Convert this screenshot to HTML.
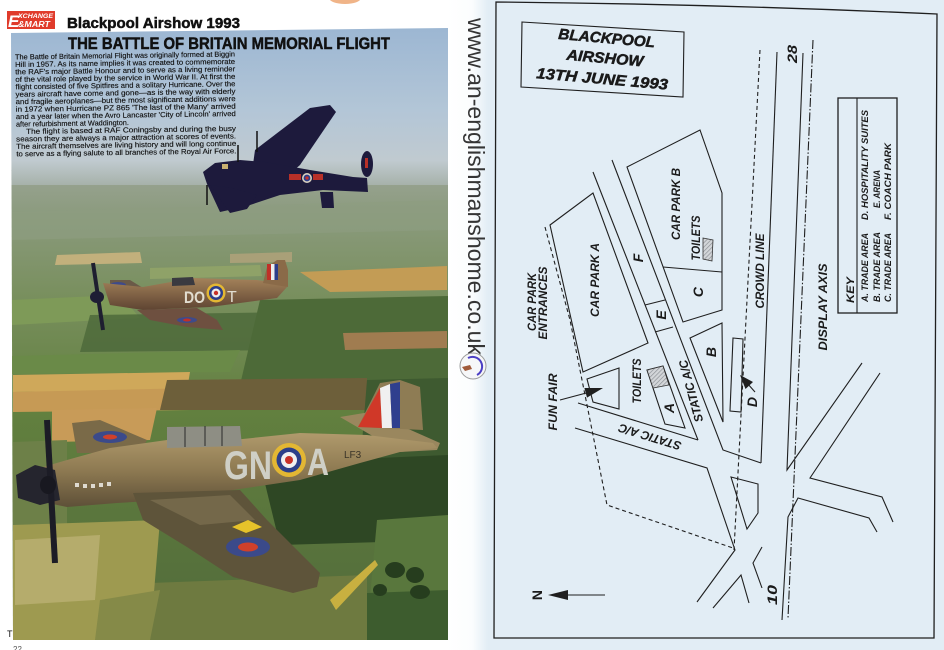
<!DOCTYPE html>
<html><head><meta charset="utf-8">
<style>
html,body{margin:0;padding:0;background:#fff;width:944px;height:650px;overflow:hidden;}
svg{display:block;}
</style></head><body>
<svg width="944" height="650" viewBox="0 0 944 650" xmlns="http://www.w3.org/2000/svg" font-family="'Liberation Sans', Arial, sans-serif">
<defs>
 <clipPath id="ph"><polygon points="11,33 448,28 448,640 13,640"/></clipPath>
 <linearGradient id="sky" x1="0" y1="0" x2="0" y2="1">
  <stop offset="0" stop-color="#9ab5d2"/>
  <stop offset="0.55" stop-color="#b3c6d7"/>
  <stop offset="0.85" stop-color="#c0cad0"/>
  <stop offset="1" stop-color="#a7b2aa"/>
 </linearGradient>
 <linearGradient id="land" x1="0" y1="0" x2="0" y2="1">
  <stop offset="0" stop-color="#9aa494"/>
  <stop offset="0.1" stop-color="#8a9a7c"/>
  <stop offset="0.25" stop-color="#7a9060"/>
  <stop offset="0.5" stop-color="#62803f"/>
  <stop offset="1" stop-color="#50693a"/>
 </linearGradient>
 <linearGradient id="spine" x1="0" y1="0" x2="1" y2="0">
  <stop offset="0" stop-color="#ffffff"/>
  <stop offset="0.6" stop-color="#fbfdfe"/>
  <stop offset="1" stop-color="#e2edf5"/>
 </linearGradient>
 <linearGradient id="hurr" x1="0" y1="0" x2="0" y2="1">
  <stop offset="0" stop-color="#b09a6c"/>
  <stop offset="0.5" stop-color="#8e7a52"/>
  <stop offset="1" stop-color="#5e5038"/>
 </linearGradient>
 <linearGradient id="spit" x1="0" y1="0" x2="0" y2="1">
  <stop offset="0" stop-color="#a4825a"/>
  <stop offset="1" stop-color="#5e4432"/>
 </linearGradient>
 <pattern id="hatch" patternUnits="userSpaceOnUse" width="3" height="3" patternTransform="rotate(45)">
  <rect width="3" height="3" fill="#d3d6d9"/>
  <line x1="0" y1="0" x2="0" y2="3" stroke="#8a8e93" stroke-width="1.3"/>
 </pattern>
</defs>

<!-- page backgrounds -->
<rect x="0" y="0" width="944" height="650" fill="#ffffff"/>
<rect x="470" y="0" width="474" height="650" fill="#e2edf5"/>
<rect x="448" y="0" width="40" height="650" fill="url(#spine)"/>
<ellipse cx="345" cy="-2" rx="16" ry="6" fill="#f0b488"/>

<!-- ============ LEFT PAGE ============ -->
<rect x="7" y="11" width="48" height="18" fill="#e03b2b"/>
<text x="8" y="27" font-size="17" font-weight="bold" font-style="italic" fill="#fff">E</text>
<text x="18" y="18" font-size="6.5" font-weight="bold" font-style="italic" fill="#fff" textLength="35" lengthAdjust="spacingAndGlyphs">XCHANGE</text>
<text x="18" y="27" font-size="8" font-weight="bold" font-style="italic" fill="#fff" textLength="32" lengthAdjust="spacingAndGlyphs">&amp;MART</text>
<text x="67" y="28" font-size="15" font-weight="bold" fill="#111" stroke="#111" stroke-width="0.5" textLength="173" lengthAdjust="spacingAndGlyphs">Blackpool Airshow 1993</text>

<!-- photo -->
<g clip-path="url(#ph)">
 <rect x="0" y="170" width="460" height="480" fill="url(#land)"/>
 <rect x="0" y="20" width="460" height="165" fill="url(#sky)"/>
 <polygon points="12,212 448,200 448,230 12,240" fill="#8d9d80" opacity="0.7"/>
 <polygon points="57,255 140,252 142,263 55,265" fill="#c2b07c"/>
 <polygon points="230,254 292,252 292,262 230,263" fill="#a9a078"/>
 <polygon points="150,268 260,265 262,276 150,279" fill="#8fa268"/>
 <polygon points="300,272 447,266 447,290 330,292" fill="#c39c55"/>
 <polygon points="12,300 120,295 140,318 12,325" fill="#7e9a58"/>
 <polygon points="90,315 300,312 290,350 80,352" fill="#4e6a3b" opacity="0.85"/>
 <polygon points="260,300 448,296 448,380 240,385" fill="#4d6a38"/>
 <polygon points="343,333 447,331 447,348 345,350" fill="#a07c50"/>
 <polygon points="12,356 240,350 230,372 12,374" fill="#6a8a48"/>
 <polygon points="13,375 190,372 187,390 13,392" fill="#cfa85a"/>
 <polygon points="13,392 197,388 190,410 13,412" fill="#c69a55"/>
 <polygon points="167,380 367,378 367,410 160,410" fill="#6d5f3a"/>
 <polygon points="52,410 157,408 150,440 52,442" fill="#c89b58"/>
 <polygon points="13,442 67,440 67,527 13,528" fill="#6d8048"/>
 <polygon points="367,380 448,378 448,470 360,468" fill="#3e5a30"/>
 <polygon points="260,463 448,455 448,540 280,545" fill="#2e4724"/>
 <polygon points="377,520 448,515 448,597 370,597" fill="#59773d"/>
 <polygon points="367,593 448,590 448,640 360,640" fill="#3d5c2e"/>
 <polygon points="150,583 367,575 367,640 150,640" fill="#6e7a40"/>
 <polygon points="13,525 160,520 150,640 13,640" fill="#9e9a50"/>
 <polygon points="15,540 100,535 95,600 15,605" fill="#b5ac6c"/>
 <polygon points="100,600 160,590 150,640 95,640" fill="#858a48"/>
 <polygon points="330,600 375,560 378,565 336,610" fill="#c8b040"/>
 <ellipse cx="395" cy="570" rx="10" ry="8" fill="#263d1e"/>
 <ellipse cx="415" cy="575" rx="9" ry="8" fill="#263d1e"/>
 <ellipse cx="420" cy="592" rx="10" ry="7" fill="#263d1e"/>
 <ellipse cx="380" cy="590" rx="7" ry="6" fill="#263d1e"/>

 <!-- Lancaster -->
 <g fill="#1d1a3c">
  <polygon points="255,150 310,108 330,105 336,112 300,165 285,178 252,172"/>
  <polygon points="203,172 215,163 240,160 265,162 310,170 353,177 367,178 368,192 323,190 280,195 247,206 220,212 207,184"/>
  <polygon points="210,185 232,188 257,195 247,209 230,213"/>
  <ellipse cx="367" cy="164" rx="6" ry="13"/>
  <polygon points="320,192 333,192 334,208 322,208"/>
 </g>
 <g stroke="#111" stroke-width="1.5">
  <line x1="257" y1="131" x2="257" y2="152"/>
  <line x1="238" y1="145" x2="238" y2="162"/>
  <line x1="207" y1="185" x2="207" y2="205"/>
 </g>
 <circle cx="307" cy="178" r="5" fill="#d8d0c0"/>
 <circle cx="307" cy="178" r="3.4" fill="#2c3d8a"/>
 <circle cx="307" cy="178" r="1.6" fill="#c83028"/>
 <rect x="289" y="174" width="12" height="6" fill="#b83028"/>
 <rect x="313" y="174" width="10" height="6" fill="#b83028"/>
 <rect x="222" y="164" width="6" height="5" fill="#c8b070"/>
 <rect x="365" y="158" width="3" height="10" fill="#b83028"/>

 <!-- Spitfire -->
 <polygon points="110,280 130,280 143,288 110,290" fill="#6a5a48"/>
 <ellipse cx="118" cy="285" rx="8" ry="3" fill="#3f4a8a"/>
 <polygon points="103,283 143,287 193,278 257,280 277,283 287,287 277,298 210,307 143,310 110,305" fill="url(#spit)"/>
 <polygon points="267,267 277,260 285,260 288,270 288,287 263,283" fill="#8a6a48"/>
 <rect x="267" y="264" width="4" height="16" fill="#c03028"/>
 <rect x="271" y="264" width="3.5" height="16" fill="#eeeeee"/>
 <rect x="274.5" y="264" width="3.5" height="16" fill="#2c3d8a"/>
 <polygon points="172,278 193,277 195,285 172,286" fill="#3a3a40"/>
 <polygon points="137,310 197,308 217,320 223,330 187,327 150,320" fill="#6e5040"/>
 <ellipse cx="187" cy="320" rx="10" ry="3" fill="#3f4a8a"/>
 <ellipse cx="187" cy="320" rx="4" ry="1.5" fill="#c03028"/>
 <line x1="93" y1="263" x2="103" y2="330" stroke="#1e1e30" stroke-width="4"/>
 <ellipse cx="97" cy="297" rx="7" ry="6" fill="#1e1e34"/>
 <circle cx="216" cy="293" r="9.5" fill="#e3b733"/>
 <circle cx="216" cy="293" r="7" fill="#2c3d8a"/>
 <circle cx="216" cy="293" r="4.5" fill="#eeeeee"/>
 <circle cx="216" cy="293" r="2.2" fill="#c83028"/>
 <text x="184" y="303" font-size="17" font-weight="bold" fill="#e2ddd0" textLength="21" lengthAdjust="spacingAndGlyphs">DO</text>
 <text x="227" y="302" font-size="16" fill="#e2ddd0">T</text>

 <!-- Hurricane -->
 <polygon points="72,423 100,420 147,440 140,453 77,453" fill="#7a6a48"/>
 <ellipse cx="110" cy="437" rx="17" ry="6" fill="#3b4a8a"/>
 <ellipse cx="110" cy="437" rx="7" ry="2.5" fill="#d0402a"/>
 <polygon points="340,417 370,412 440,443 437,450 400,452" fill="#9a875e"/>
 <polygon points="358,427 380,383 400,380 420,387 423,430" fill="#8e7c54"/>
 <polygon points="358,427 380,388 382,428" fill="#d03828"/>
 <polygon points="380,388 390,384 392,428 382,428" fill="#f0f0f0"/>
 <polygon points="390,384 400,382 400,428 392,428" fill="#2f3f8e"/>
 <polygon points="20,487 33,470 67,460 110,448 167,440 233,440 300,433 367,435 433,443 437,448 400,452 360,463 300,480 233,490 167,500 117,503 67,507 33,500" fill="url(#hurr)"/>
 <polygon points="167,427 240,426 242,446 167,448" fill="#8e8e84"/>
 <g stroke="#2a2a2a" stroke-width="1"><line x1="185" y1="427" x2="185" y2="447"/><line x1="205" y1="426" x2="205" y2="446"/><line x1="222" y1="426" x2="222" y2="446"/></g>
 <polygon points="133,493 240,490 267,520 320,573 317,587 293,593 233,577 187,547 143,520" fill="#5e543a"/>
 <polygon points="150,500 230,495 255,520 200,525" fill="#74684a"/>
 <ellipse cx="248" cy="547" rx="22" ry="10" fill="#3b4a8a"/>
 <ellipse cx="248" cy="547" rx="10" ry="4.5" fill="#d0402a"/>
 <polygon points="232,527 248,520 262,527 246,533" fill="#e6c22a"/>
 <polygon points="16,475 35,465 55,470 60,500 40,505 18,498" fill="#25252e"/>
 <line x1="47" y1="420" x2="55" y2="563" stroke="#1c1c26" stroke-width="6"/>
 <ellipse cx="48" cy="485" rx="8" ry="9" fill="#181820"/>
 <g fill="#dedad0"><rect x="75" y="483" width="4" height="4"/><rect x="83" y="484" width="4" height="4"/><rect x="91" y="484" width="4" height="4"/><rect x="99" y="483" width="4" height="4"/><rect x="107" y="482" width="4" height="4"/></g>
 <circle cx="289" cy="460" r="17" fill="#e3b733"/>
 <circle cx="289" cy="460" r="12.5" fill="#2c3f8a"/>
 <circle cx="289" cy="460" r="8" fill="#f0f0f0"/>
 <circle cx="289" cy="460" r="4" fill="#c83028"/>
 <text x="224" y="479" font-size="40" font-weight="bold" fill="#cfcfc6" textLength="48" lengthAdjust="spacingAndGlyphs">GN</text>
 <text x="307" y="475" font-size="38" font-weight="bold" fill="#cfcfc6" textLength="22" lengthAdjust="spacingAndGlyphs">A</text>
 <text x="344" y="458" font-size="10" fill="#3a3428">LF3</text>

 <!-- article text -->
 <text x="68" y="49" font-size="16.5" font-weight="bold" fill="#111" stroke="#111" stroke-width="0.5" textLength="322" lengthAdjust="spacingAndGlyphs">THE BATTLE OF BRITAIN MEMORIAL FLIGHT</text>
 <g font-size="7.3" fill="#111" stroke="#111" stroke-width="0.15" transform="rotate(-0.8 15 57)">
  <text x="15" y="59.5" textLength="220" lengthAdjust="spacingAndGlyphs">The Battle of Britain Memorial Flight was originally formed at Biggin</text>
  <text x="15" y="67" textLength="220" lengthAdjust="spacingAndGlyphs">Hill in 1957. As its name implies it was created to commemorate</text>
  <text x="15" y="74.4" textLength="220" lengthAdjust="spacingAndGlyphs">the RAF's major Battle Honour and to serve as a living reminder</text>
  <text x="15" y="81.9" textLength="220" lengthAdjust="spacingAndGlyphs">of the vital role played by the service in World War II. At first the</text>
  <text x="15" y="89.3" textLength="220" lengthAdjust="spacingAndGlyphs">flight consisted of five Spitfires and a solitary Hurricane. Over the</text>
  <text x="15" y="96.8" textLength="220" lengthAdjust="spacingAndGlyphs">years aircraft have come and gone—as is the way with elderly</text>
  <text x="15" y="104.2" textLength="220" lengthAdjust="spacingAndGlyphs">and fragile aeroplanes—but the most significant additions were</text>
  <text x="15" y="111.7" textLength="220" lengthAdjust="spacingAndGlyphs">in 1972 when Hurricane PZ 865 'The last of the Many' arrived</text>
  <text x="15" y="119.1" textLength="220" lengthAdjust="spacingAndGlyphs">and a year later when the Avro Lancaster 'City of Lincoln' arrived</text>
  <text x="15" y="126.6" textLength="113" lengthAdjust="spacingAndGlyphs">after refurbishment at Waddington.</text>
  <text x="25" y="134" textLength="210" lengthAdjust="spacingAndGlyphs">The flight is based at RAF Coningsby and during the busy</text>
  <text x="15" y="141.5" textLength="220" lengthAdjust="spacingAndGlyphs">season they are always a major attraction at scores of events.</text>
  <text x="15" y="148.9" textLength="220" lengthAdjust="spacingAndGlyphs">The aircraft themselves are living history and will long continue</text>
  <text x="15" y="156.4" textLength="220" lengthAdjust="spacingAndGlyphs">to serve as a flying salute to all branches of the Royal Air Force.</text>
 </g>
</g>
<text x="7" y="637" font-size="9" fill="#111">T</text>
<text x="13" y="652" font-size="8" fill="#555">22</text>

<!-- ============ RIGHT PAGE ============ -->
<text transform="translate(468,18) rotate(90)" font-size="23" fill="#353535" textLength="337" lengthAdjust="spacingAndGlyphs">www.an-englishmanshome.co.uk</text>
<circle cx="473" cy="366" r="13" fill="#f6f7f8" stroke="#9a9a9a" stroke-width="1"/>
<path d="M468,358 A8,8 0 0 1 477,375" fill="none" stroke="#4b3fc4" stroke-width="2"/>
<path d="M462,367 L470,365 L472,369 L465,371 Z" fill="#a05a3a"/>

<!-- map -->
<g fill="none" stroke="#1f1f1f" stroke-width="1.1">
 <path d="M496,2 Q716,4 937,14 L934,638 L494,638 Z" stroke-width="1.3"/>
 <polygon points="522,22 684,32 683,97 521,87"/>
 <polygon points="550,225 593,193 648,343 583,372"/>
 <polygon points="587,379 619,368 619,409 593,402"/>
 <polyline points="593,172 698,440"/>
 <polyline points="612,160 723,450 761,463"/>
 <polygon points="627,167 700,130 722,193 722,310 683,322"/>
 <line x1="663" y1="267" x2="722" y2="272"/>
 <line x1="645" y1="305" x2="665" y2="300"/>
 <line x1="655" y1="332" x2="673" y2="327"/>
 <polygon points="647,370 663,366 685,428 665,424"/>
 <polyline points="578,403 698,440"/>
 <polygon points="690,338 722,323 723,422"/>
 <polygon points="733,338 743,339 741,412 730,411"/>
 <line x1="777" y1="52" x2="761" y2="463"/>
 <polyline points="803,53 787,470 862,363"/>
 <polyline points="880,373 810,478 882,497 893,522"/>
 <polyline points="877,532 869,518 798,498 788,517 782,620"/>
 <polyline points="575,428 707,468 735,550 697,602"/>
 <polyline points="713,608 741,575 749,603"/>
 <polygon points="731,477 758,484 758,513 747,529"/>
 <polyline points="762,547 753,563 762,588"/>
 <line x1="568" y1="595" x2="605" y2="595"/>
 <line x1="560" y1="400" x2="590" y2="392"/>
 <line x1="755" y1="392" x2="747" y2="383"/>
 <polyline points="545,227 570,320 607,505 733,548" stroke-dasharray="4,3"/>
 <line x1="760" y1="50" x2="734" y2="550" stroke-dasharray="4,3"/>
 <line x1="813" y1="40" x2="788" y2="618" stroke-dasharray="9,2,1.5,2"/>
 <rect x="838" y="98" width="59" height="215" stroke-width="1.3"/>
 <line x1="857" y1="98" x2="857" y2="313"/>
</g>
<polygon points="703,238 713,240 712,261 703,259" fill="url(#hatch)" stroke="#333" stroke-width="0.8"/>
<polygon points="647,370 663,366 669,385 653,388" fill="url(#hatch)" stroke="#333" stroke-width="0.8"/>
<g fill="#1f1f1f">
 <polygon points="548,595 568,590 568,600"/>
 <polygon points="603,388 587,397.6 584.4,388"/>
 <polygon points="740,375 753,382 745.5,389"/>
</g>

<g font-weight="bold" font-style="italic" fill="#1a1a1a">
 <g font-size="15" stroke="#1a1a1a" stroke-width="0.5" transform="rotate(5 604 58)">
  <text x="605" y="43" text-anchor="middle" textLength="97" lengthAdjust="spacingAndGlyphs">BLACKPOOL</text>
  <text x="605" y="63" text-anchor="middle" textLength="77" lengthAdjust="spacingAndGlyphs">AIRSHOW</text>
  <text x="604" y="84" text-anchor="middle" textLength="132" lengthAdjust="spacingAndGlyphs">13TH JUNE 1993</text>
 </g>
 <g font-size="12">
  <text transform="translate(536,302) rotate(-90)" text-anchor="middle" textLength="58" lengthAdjust="spacingAndGlyphs">CAR PARK</text>
  <text transform="translate(547,303) rotate(-90)" text-anchor="middle" textLength="73" lengthAdjust="spacingAndGlyphs">ENTRANCES</text>
  <text transform="translate(599,280) rotate(-90)" text-anchor="middle" textLength="74" lengthAdjust="spacingAndGlyphs">CAR PARK A</text>
  <text transform="translate(680,204) rotate(-90)" text-anchor="middle" textLength="72" lengthAdjust="spacingAndGlyphs">CAR PARK B</text>
  <text transform="translate(700,238) rotate(-90)" text-anchor="middle" textLength="45" lengthAdjust="spacingAndGlyphs">TOILETS</text>
  <text transform="translate(764,271) rotate(-90)" text-anchor="middle" textLength="75" lengthAdjust="spacingAndGlyphs">CROWD LINE</text>
  <text transform="translate(641,381) rotate(-90)" text-anchor="middle" textLength="45" lengthAdjust="spacingAndGlyphs">TOILETS</text>
  <text transform="translate(557,402) rotate(-90)" text-anchor="middle" textLength="57" lengthAdjust="spacingAndGlyphs">FUN FAIR</text>
  <text transform="translate(827,307) rotate(-90)" text-anchor="middle" textLength="87" lengthAdjust="spacingAndGlyphs">DISPLAY AXIS</text>
  <text transform="translate(695,390) rotate(-105)" text-anchor="middle" textLength="64" lengthAdjust="spacingAndGlyphs">STATIC A/C</text>
  <text transform="translate(651,433) rotate(-163)" text-anchor="middle" textLength="65" lengthAdjust="spacingAndGlyphs">STATIC A/C</text>
 </g>
 <g font-size="14">
  <text transform="translate(643,258) rotate(-90)" text-anchor="middle">F</text>
  <text transform="translate(703,292) rotate(-90)" text-anchor="middle">C</text>
  <text transform="translate(666,315) rotate(-90)" text-anchor="middle">E</text>
  <text transform="translate(716,352) rotate(-90)" text-anchor="middle">B</text>
  <text transform="translate(757,402) rotate(-90)" text-anchor="middle">D</text>
  <text transform="translate(674,408) rotate(-90)" text-anchor="middle">A</text>
  <text transform="translate(797,54) rotate(-90)" text-anchor="middle" textLength="18" lengthAdjust="spacingAndGlyphs">28</text>
  <text transform="translate(777,595) rotate(-90)" text-anchor="middle" textLength="20" lengthAdjust="spacingAndGlyphs">10</text>
  <text transform="translate(542,595) rotate(-90)" text-anchor="middle" font-style="normal">N</text>
 </g>
 <text transform="translate(854,303) rotate(-90)" font-size="11" textLength="26" lengthAdjust="spacingAndGlyphs">KEY</text>
 <g font-size="9">
  <text transform="translate(868,302) rotate(-90)" textLength="69" lengthAdjust="spacingAndGlyphs">A. TRADE AREA</text>
  <text transform="translate(868,220) rotate(-90)" textLength="110" lengthAdjust="spacingAndGlyphs">D. HOSPITALITY SUITES</text>
  <text transform="translate(880,302) rotate(-90)" textLength="70" lengthAdjust="spacingAndGlyphs">B.  TRADE AREA</text>
  <text transform="translate(880,208) rotate(-90)" textLength="38" lengthAdjust="spacingAndGlyphs">E. ARENA</text>
  <text transform="translate(891,302) rotate(-90)" textLength="69" lengthAdjust="spacingAndGlyphs">C. TRADE AREA</text>
  <text transform="translate(891,220) rotate(-90)" textLength="77" lengthAdjust="spacingAndGlyphs">F. COACH PARK</text>
 </g>
</g>
</svg>
</body></html>
